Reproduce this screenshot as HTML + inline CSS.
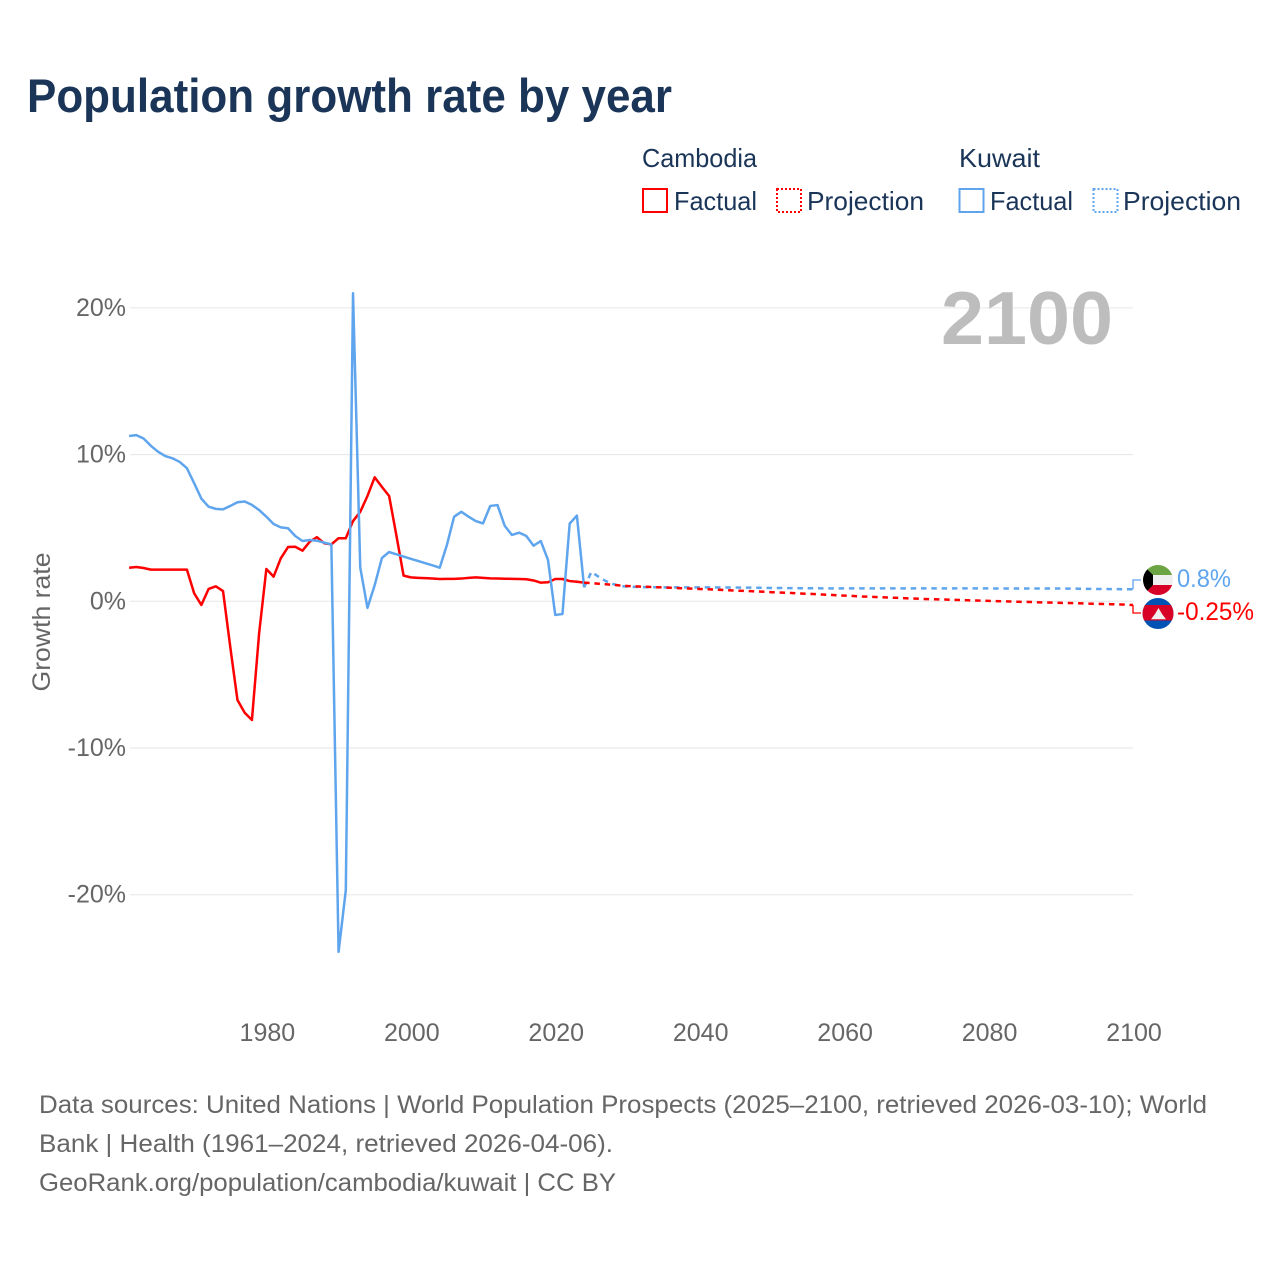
<!DOCTYPE html>
<html lang="en">
<head>
<meta charset="utf-8">
<title>Population growth rate by year</title>
<style>
html,body{margin:0;padding:0;background:#fff}
svg{display:block;font-family:"Liberation Sans",sans-serif}
</style>
</head>
<body>
<svg id="chart" width="1280" height="1280" viewBox="0 0 1280 1280" xmlns="http://www.w3.org/2000/svg">
  <text x="27" y="112" font-size="47" font-weight="700" fill="#1a3557" textLength="645" lengthAdjust="spacingAndGlyphs">Population growth rate by year</text>

  <g font-size="26" fill="#1a3557">
    <text x="642" y="167" textLength="115" lengthAdjust="spacingAndGlyphs">Cambodia</text>
    <text x="959" y="167" textLength="81" lengthAdjust="spacingAndGlyphs">Kuwait</text>
    <rect x="643" y="189" width="24" height="23" fill="none" stroke="#ff0000" stroke-width="2"/>
    <text x="674" y="210" textLength="83" lengthAdjust="spacingAndGlyphs">Factual</text>
    <rect x="777" y="189" width="24" height="23" fill="none" stroke="#ff0000" stroke-width="2" stroke-dasharray="2 2"/>
    <text x="807" y="210" textLength="117" lengthAdjust="spacingAndGlyphs">Projection</text>
    <rect x="959.500" y="189" width="24" height="23" fill="none" stroke="#5fa5ee" stroke-width="2"/>
    <text x="990" y="210" textLength="83" lengthAdjust="spacingAndGlyphs">Factual</text>
    <rect x="1093.500" y="189" width="24" height="23" fill="none" stroke="#5fa5ee" stroke-width="2" stroke-dasharray="2 2"/>
    <text x="1123" y="210" textLength="118" lengthAdjust="spacingAndGlyphs">Projection</text>
  </g>

  <g id="grid"></g>
  <g id="yticks" font-size="25" fill="#666" text-anchor="end"></g>
  <g id="xticks" font-size="25" fill="#666" text-anchor="middle"></g>

  <text transform="translate(50,622) rotate(-90)" font-size="25" fill="#666" text-anchor="middle" textLength="139" lengthAdjust="spacingAndGlyphs">Growth rate</text>
  <text x="941" y="344" font-size="75" font-weight="700" fill="#bdbdbd" textLength="172" lengthAdjust="spacingAndGlyphs">2100</text>

  <g id="series" fill="none" stroke-width="2.500" stroke-linejoin="round"></g>

  <g>
    <path id="connector-kuwait" fill="none" stroke="#5fa5ee" stroke-width="1.300"/>
    <path id="connector-cambodia" fill="none" stroke="#ff0000" stroke-width="1.300"/>
    <defs>
      <clipPath id="clip-kw"><circle cx="1158" cy="580" r="15"/></clipPath>
      <clipPath id="clip-kh"><circle cx="1158" cy="613.500" r="15.500"/></clipPath>
    </defs>
    <g clip-path="url(#clip-kw)">
      <rect x="1143" y="565" width="30" height="10" fill="#6da544"/>
      <rect x="1143" y="575" width="30" height="10" fill="#f0f0f0"/>
      <rect x="1143" y="585" width="30" height="10" fill="#d80027"/>
      <path d="M1143 565 L1153 575 V585 L1143 595 Z" fill="#000"/>
    </g>
    <g clip-path="url(#clip-kh)">
      <rect x="1142" y="598" width="32" height="31" fill="#0052b4"/>
      <rect x="1142" y="605" width="32" height="15.500" fill="#d80027"/>
      <path d="M1151 619.300 L1155 614 L1158.500 608 L1162 614 L1166 619.300 Z" fill="#f0f0f0"/>
    </g>
    <text x="1177" y="587" font-size="25" fill="#5fa5ee" textLength="54" lengthAdjust="spacingAndGlyphs">0.8%</text>
    <text x="1177" y="620" font-size="25" fill="#ff0000" textLength="77" lengthAdjust="spacingAndGlyphs">-0.25%</text>
  </g>

  <g font-size="25" fill="#666">
    <text x="39" y="1113" textLength="1168" lengthAdjust="spacingAndGlyphs">Data sources: United Nations | World Population Prospects (2025–2100, retrieved 2026-03-10); World</text>
    <text x="39" y="1152" textLength="574" lengthAdjust="spacingAndGlyphs">Bank | Health (1961–2024, retrieved 2026-04-06).</text>
    <text x="39" y="1191" textLength="577" lengthAdjust="spacingAndGlyphs">GeoRank.org/population/cambodia/kuwait | CC BY</text>
  </g>
</svg>
<script>
const yTickValues = [20, 10, 0, -10, -20];
const xTickYears = [1980, 2000, 2020, 2040, 2060, 2080, 2100];
const factualStartYear = 1961;
const projectionStartYear = 2024;

const cambodiaFactual = [
  2.29,2.34,2.27,2.16,2.16,2.16,2.16,2.16,2.16,0.55,
  -0.25,0.84,1.02,0.7,-3.1,-6.73,-7.6,-8.09,-2.17,2.2,
  1.68,2.93,3.7,3.72,3.45,4.06,4.37,3.96,3.88,4.3,
  4.3,5.47,6.1,7.18,8.45,7.8,7.18,4.5,1.75,1.63,
  1.6,1.58,1.55,1.52,1.53,1.53,1.55,1.6,1.63,1.6,
  1.56,1.55,1.54,1.53,1.52,1.5,1.42,1.27,1.3,1.52,
  1.52,1.38,1.33,1.27
];
const kuwaitFactual = [
  11.27,11.33,11.1,10.6,10.2,9.9,9.75,9.5,9.07,8.05,
  7.0,6.45,6.3,6.27,6.5,6.75,6.8,6.57,6.22,5.77,
  5.27,5.04,4.98,4.45,4.11,4.18,4.13,4.0,3.88,-23.9,
  -19.7,21.0,2.3,-0.45,1.1,2.95,3.36,3.2,3.05,2.9,
  2.75,2.6,2.45,2.29,3.84,5.77,6.1,5.77,5.47,5.31,
  6.5,6.56,5.15,4.52,4.68,4.45,3.79,4.11,2.81,-0.93,
  -0.87,5.3,5.84,0.95
];
const cambodiaProjection = [
  1.27,1.24,1.2,1.16,1.12,1.08,1.04,
  1.02,1.0,0.98,0.96,0.94,0.92,0.9,0.88,0.86,0.84,
  0.82,0.8,0.78,0.75,0.73,0.71,0.69,0.67,0.65,0.62,
  0.6,0.58,0.56,0.53,0.51,0.49,0.46,0.44,0.41,0.39,
  0.37,0.34,0.32,0.3,0.28,0.26,0.24,0.22,0.2,0.18,
  0.16,0.15,0.13,0.12,0.1,0.09,0.07,0.06,0.04,0.03,
  0.01,0,-0.01,-0.03,-0.04,-0.05,-0.07,-0.08,-0.09,-0.11,
  -0.12,-0.13,-0.14,-0.16,-0.17,-0.18,-0.2,-0.21,-0.23,-0.25
];
const kuwaitProjection = [
  0.95,2.0,1.68,1.38,1.18,1.04,1.0,
  0.98,0.97,0.96,0.96,0.95,0.95,0.95,0.95,0.95,0.95,
  0.95,0.95,0.94,0.94,0.94,0.93,0.93,0.92,0.92,0.91,
  0.91,0.9,0.9,0.89,0.89,0.89,0.88,0.88,0.88,0.88,
  0.88,0.88,0.88,0.88,0.88,0.88,0.88,0.88,0.88,0.88,
  0.88,0.88,0.88,0.88,0.88,0.88,0.88,0.88,0.88,0.88,
  0.87,0.87,0.87,0.87,0.87,0.87,0.87,0.87,0.87,0.87,
  0.86,0.86,0.85,0.85,0.84,0.84,0.83,0.83,0.82,0.82
];

const NS = 'http://www.w3.org/2000/svg';
function xScale(year) { return 1133 + (year - 2100) * 7.222; }
function yScale(value) { return 601.3 - value * 14.67; }
function linePath(values, startYear) {
  return values.map(function (v, i) {
    return (i ? 'L' : 'M') + xScale(startYear + i).toFixed(2) + ' ' + yScale(v).toFixed(2);
  }).join(' ');
}

const gridGroup = document.getElementById('grid');
const yGroup = document.getElementById('yticks');
yTickValues.forEach(function (v) {
  const line = document.createElementNS(NS, 'line');
  
  
  line.setAttribute('x1', 130);
  line.setAttribute('x2', 1133);
  line.setAttribute('y1', yScale(v));
  line.setAttribute('y2', yScale(v));
  line.setAttribute('stroke', '#e6e6e6');
  line.setAttribute('stroke-width', '1');
  gridGroup.appendChild(line);
  const label = document.createElementNS(NS, 'text');
  
  
  label.setAttribute('x', 126);
  label.setAttribute('y', yScale(v) + 8);
  label.textContent = v + '%';
  yGroup.appendChild(label);
});

const xGroup = document.getElementById('xticks');
xTickYears.forEach(function (year) {
  const label = document.createElementNS(NS, 'text');
  
  
  label.setAttribute('x', xScale(year) + 1);
  label.setAttribute('y', 1041);
  label.textContent = year;
  xGroup.appendChild(label);
});

const seriesGroup = document.getElementById('series');
function addLine(values, startYear, colour, dashed, name) {
  const path = document.createElementNS(NS, 'path');
  
  
  path.setAttribute('d', linePath(values, startYear));
  path.setAttribute('stroke', colour);
  if (dashed) { path.setAttribute('stroke-dasharray', '5.5 4.8'); }
  seriesGroup.appendChild(path);
}
addLine(cambodiaFactual, factualStartYear, '#ff0000', false, 'cambodia-factual-line');
addLine(kuwaitFactual, factualStartYear, '#5fa5ee', false, 'kuwait-factual-line');
addLine(kuwaitProjection, projectionStartYear, '#5fa5ee', true, 'kuwait-projection-line');
addLine(cambodiaProjection, projectionStartYear, '#ff0000', true, 'cambodia-projection-line');

const lastKuwait = yScale(kuwaitProjection[kuwaitProjection.length - 1]);
const lastCambodia = yScale(cambodiaProjection[cambodiaProjection.length - 1]);
document.getElementById('connector-kuwait').setAttribute('d', 'M1133 ' + lastKuwait + ' V580 H1141');
document.getElementById('connector-cambodia').setAttribute('d', 'M1133 ' + lastCambodia + ' V613 H1141');
</script>
</body>
</html>
